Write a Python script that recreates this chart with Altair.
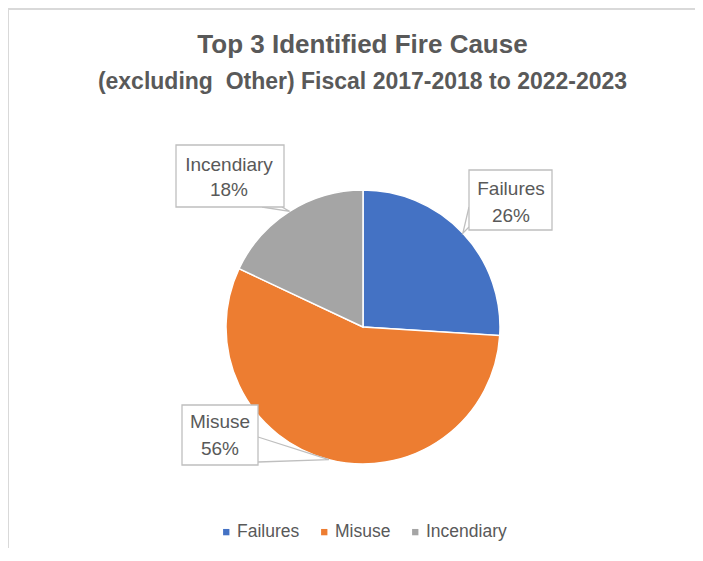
import math
import altair as alt
import pandas as pd

# ---- data ----
categories = ["Failures", "Misuse", "Incendiary"]
shares = [26, 56, 18]
colors = ["#4472C4", "#ED7D31", "#A5A5A5"]
title_lines = ["Top 3 Identified Fire Cause",
               "(excluding\u00a0 Other) Fiscal 2017-2018 to 2022-2023"]

# ---- layout (chart pixel coordinates) ----
W, H = 687, 540
CX, CY, R = 355, 319, 137
box_x1 = [461, 174, 168]
box_x2 = [544, 250, 276]
box_y1 = [162, 397, 137]
box_y2 = [222, 457, 199]
text_x = [503, 212, 221]
text_y1 = [187, 420, 163]
text_y2 = [214, 447, 188]
# wedge base points on the box edges
base_a = [(461, 199), (250, 429), (254, 199)]
base_b = [(461, 219), (250, 454), (274, 199)]

FONT = "Liberation Sans"
TXT = "#595959"

pie_df = pd.DataFrame({"cause": categories, "share": shares,
                       "idx": list(range(len(categories)))})

lab_df = pd.DataFrame({
    "cause": categories,
    "pct": [f"{v}%" for v in shares],
    "x1": box_x1, "x2": box_x2, "y1": box_y1, "y2": box_y2,
    "tx": text_x, "ty1": text_y1, "ty2": text_y2,
})

# leader wedges: base -> slice midpoint on the rim -> base
rows = []
cum = 0
for i, v in enumerate(shares):
    mid = (cum + v / 2) / sum(shares) * 2 * math.pi
    cum += v
    tip = (CX + R * math.sin(mid), CY - R * math.cos(mid))
    for k, p in enumerate([base_a[i], tip, base_b[i]]):
        rows.append({"cause": categories[i], "k": k, "x": p[0], "y": p[1]})
lead_df = pd.DataFrame(rows)

title_df = pd.DataFrame({"t": title_lines, "ty": [45, 81]})

border_top = alt.Chart(pd.DataFrame({"a": [0]})).mark_rule(
    color="#d9d9d9", strokeWidth=2).encode(
    x=alt.value(0), x2=alt.value(W), y=alt.value(1))
border_left = alt.Chart(pd.DataFrame({"a": [0]})).mark_rule(
    color="#d9d9d9", strokeWidth=2).encode(
    x=alt.value(0), y=alt.value(0), y2=alt.value(H))

pie = alt.Chart(pie_df).mark_arc(outerRadius=R, stroke="white", strokeWidth=1.5).encode(
    theta=alt.Theta("share:Q", stack=True),
    color=alt.Color("cause:N",
                    scale=alt.Scale(domain=categories, range=colors),
                    sort=categories,
                    legend=alt.Legend(title=None, orient="none", legendX=209.5, legendY=515,
                                      direction="horizontal", symbolType="square",
                                      symbolSize=40, symbolStrokeWidth=0,
                                      labelFontSize=17.5, labelFont=FONT, labelColor=TXT,
                                      labelOffset=2, columnPadding=16, padding=0)),
    order=alt.Order("idx:Q"),
    x=alt.value(CX), y=alt.value(CY),
)

leaders = alt.Chart(lead_df).mark_line(color="#bfbfbf", strokeWidth=1.3).encode(
    x=alt.X("x:Q", scale=None, axis=None),
    y=alt.Y("y:Q", scale=None, axis=None),
    detail="cause:N",
    order="k:Q",
)

boxes = alt.Chart(lab_df).mark_rect(fill="white", stroke="#bfbfbf", strokeWidth=1.3).encode(
    x=alt.X("x1:Q", scale=None, axis=None), x2="x2:Q",
    y=alt.Y("y1:Q", scale=None, axis=None), y2="y2:Q",
)

name_txt = alt.Chart(lab_df).mark_text(font=FONT, fontSize=19, color=TXT,
                                       align="center", baseline="alphabetic").encode(
    x=alt.X("tx:Q", scale=None, axis=None),
    y=alt.Y("ty1:Q", scale=None, axis=None),
    text="cause:N",
)
pct_txt = alt.Chart(lab_df).mark_text(font=FONT, fontSize=19, color=TXT,
                                      align="center", baseline="alphabetic").encode(
    x=alt.X("tx:Q", scale=None, axis=None),
    y=alt.Y("ty2:Q", scale=None, axis=None),
    text="pct:N",
)

title1 = alt.Chart(title_df.iloc[[0]]).mark_text(font=FONT, fontSize=26, fontWeight="bold",
                                                 color=TXT, align="center",
                                                 baseline="alphabetic").encode(
    x=alt.value(354.5), y=alt.Y("ty:Q", scale=None, axis=None), text="t:N")
title2 = alt.Chart(title_df.iloc[[1]]).mark_text(font=FONT, fontSize=23, fontWeight="bold",
                                                 color=TXT, align="center",
                                                 baseline="alphabetic").encode(
    x=alt.value(354.5), y=alt.Y("ty:Q", scale=None, axis=None), text="t:N")

chart = alt.layer(
    border_top, border_left, pie, leaders, boxes, name_txt, pct_txt, title1, title2
).properties(
    width=W, height=H, padding=0,
    autosize=alt.AutoSizeParams(type="none"),
).configure_view(stroke=None).configure(background="white")

chart.save("out.html", embed_options={"renderer": "svg", "actions": False})
